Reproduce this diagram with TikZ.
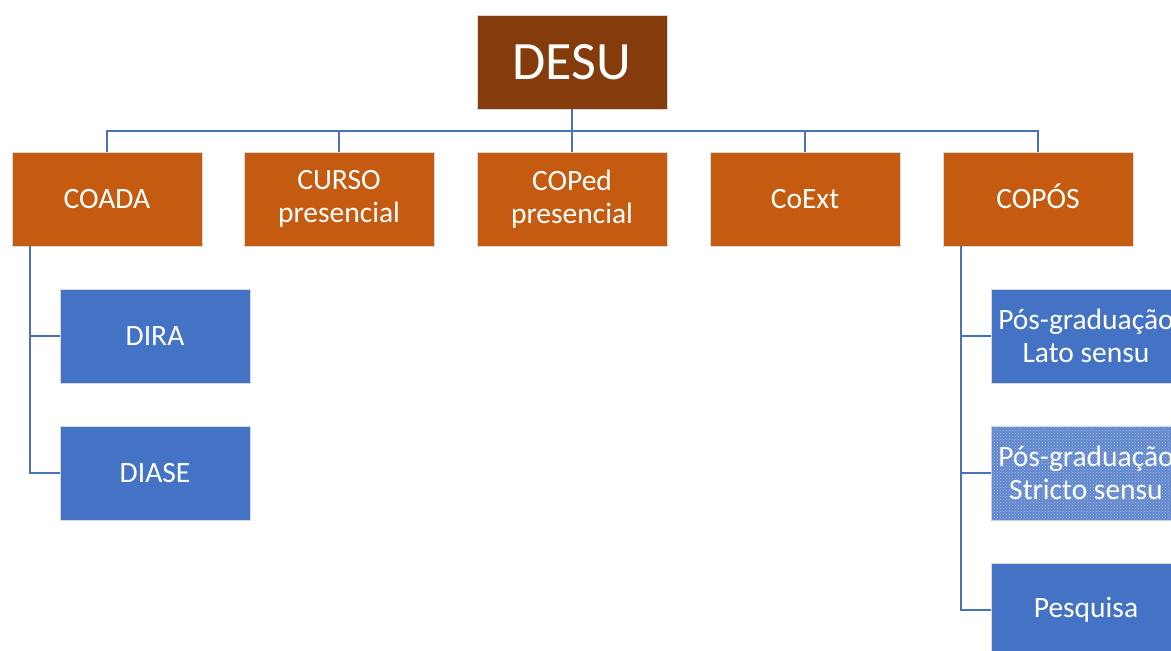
\documentclass[tikz,border=0pt]{standalone}
\usepackage{fontspec}
\setmainfont{Carlito}
\usetikzlibrary{patterns}
\definecolor{topbrown}{HTML}{843C0C}
\definecolor{lvlorange}{HTML}{C55A11}
\definecolor{boxblue}{HTML}{4472C4}
\definecolor{lineblue}{HTML}{4A72B8}
\tikzset{
  box/.style={minimum width=190pt, minimum height=94pt, inner sep=0pt, text=white, align=center, draw=white!85!black, line width=0.8pt, font=\fontsize{29.5}{33}\selectfont},
  topbox/.style={box, fill=topbrown, font=\fontsize{54}{60}\selectfont},
  orangebox/.style={box, fill=lvlorange},
  bluebox/.style={box, fill=boxblue},
  dotbox/.style={box, fill=boxblue!85!white, postaction={pattern=crosshatch dots, pattern color=white!55!boxblue}},
  conn/.style={draw=lineblue, line width=1.8pt},
}
\begin{document}
\begin{tikzpicture}[x=1pt,y=-1pt]
\useasboundingbox (0,0) rectangle (1171,651);
\clip (0,0) rectangle (1171,651);
\fill[white] (0,0) rectangle (1171,651);
\node[topbox] (desu) at (572,62) {DESU};
\node[orangebox] (coada) at (107,199) {COADA};
\node[orangebox] (curso) at (339,199) {CURSO\\presencial};
\node[orangebox] (coped) at (572,199) {COPed\\presencial};
\node[orangebox] (coext) at (805,199) {CoExt};
\node[orangebox] (copos) at (1038,199) {\vphantom{COADA}\smash{COPÓS}};
\node[bluebox] (dira) at (155,336) {DIRA};
\node[bluebox] (diase) at (155,473) {DIASE};
\node[bluebox] (lato) at (1086,336) {Pós-graduação\\Lato sensu};
\node[dotbox] (stricto) at (1086,473) {Pós-graduação\\Stricto sensu};
\node[bluebox] (pesq) at (1086,610) {Pesquisa};
\coordinate (bus) at (572,131);
\coordinate (trunkL) at (30,246);
\coordinate (trunkR) at (961,246);
\draw[conn] (desu.south) -- (bus);
\draw[conn] (coada.north) |- (bus) -| (copos.north);
\draw[conn] (curso.north) -- (curso.north |- bus);
\draw[conn] (coped.north) -- (coped.north |- bus);
\draw[conn] (coext.north) -- (coext.north |- bus);
\draw[conn] (trunkL) |- (diase.west);
\draw[conn] (dira.west) -- (dira.west -| trunkL);
\draw[conn] (trunkR) |- (pesq.west);
\draw[conn] (lato.west) -- (lato.west -| trunkR);
\draw[conn] (stricto.west) -- (stricto.west -| trunkR);
\end{tikzpicture}
\end{document}
